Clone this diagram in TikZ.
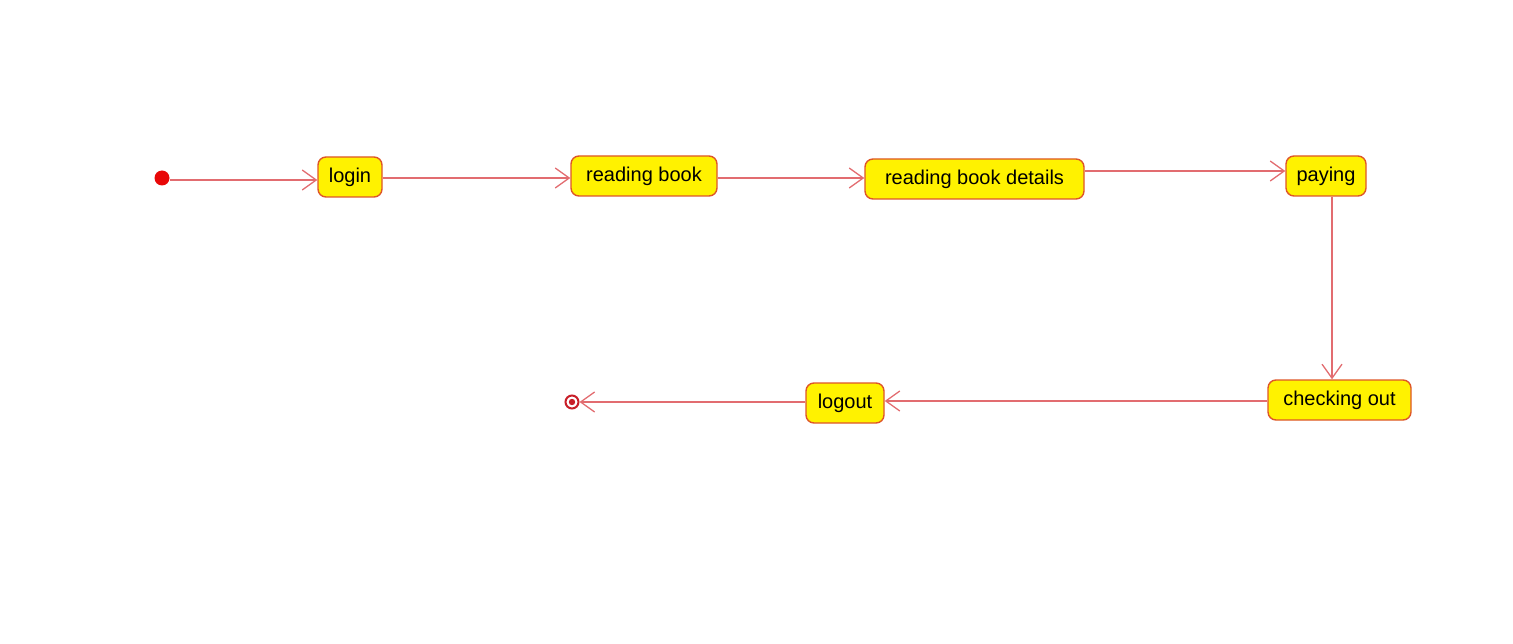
\documentclass[tikz,border=0pt]{standalone}
\usepackage{fontspec}
\setmainfont{Liberation Sans}
\usetikzlibrary{arrows.meta,shapes,calc}
\definecolor{lineRed}{RGB}{226,108,112}
\definecolor{boxEdge}{RGB}{222,86,40}
\definecolor{dotRed}{RGB}{232,8,8}
\definecolor{endRed}{RGB}{200,30,40}

\begin{document}
\begin{tikzpicture}[x=1pt,y=-1pt]
    \tikzset{ST/.style={draw=lineRed,line width=1.6pt,-{Straight Barb[length=14pt,width=20pt,line width=1.3pt]}}}
    \tikzset{SN/.style={draw=boxEdge,fill=yellow,line width=1.4pt,rectangle,rounded corners=8pt,minimum height=40pt,inner xsep=0pt,font=\fontsize{20}{24}\selectfont}}
    \tikzset{IN/.style={circle,fill=dotRed,inner sep=0pt,minimum size=15pt}}
    \tikzset{FN/.style={circle,draw=endRed,line width=2pt,fill=white,inner sep=0pt,minimum size=13pt}}

    \useasboundingbox (0,0) rectangle (1513,644);

    \node (start) [IN] at (162, 178) {};
    \node (login) [SN,minimum width=64pt] at (350, 177) {login};
    \node (book) [SN,minimum width=146pt] at (644, 176) {reading book};
    \node (details) [SN,minimum width=219pt] at (974.5, 179) {reading book details};
    \node (pay) [SN,minimum width=80pt] at (1326, 176) {paying};
    \node (check) [SN,minimum width=143pt] at (1339.5, 400) {checking out};
    \node (logout) [SN,minimum width=78pt] at (845, 403) {logout};
    \node (stop) [FN] at (572, 402) {};
    \fill[endRed] (stop) circle (3.2pt);

    \path[ST] ([yshift=-2]start.east) -- ([yshift=-2]start.east -| login.west);
    \path[ST] ([yshift=-1]login.east) -- ([yshift=-1]login.east -| book.west);
    \path[ST] ([yshift=-2]book.east) -- ([yshift=-2]book.east -| details.west);
    \path[ST] ([yshift=8]details.east) -- ([yshift=8]details.east -| pay.west);
    \path[ST] ([xshift=6]pay.south) -- ([xshift=6]pay.south |- check.north);
    \path[ST] ([yshift=-1]check.west) -- ([yshift=-1]check.west -| logout.east);
    \path[ST] ([yshift=1]logout.west) -- ([yshift=1]logout.west -| stop.east);
\end{tikzpicture}
\end{document}
